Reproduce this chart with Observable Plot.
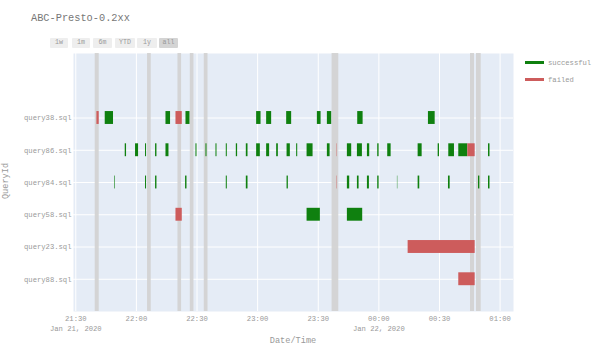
<!DOCTYPE html>
<html>
<head>
<meta charset="utf-8">
<script src="https://cdn.jsdelivr.net/npm/d3@7"></script>
<script src="https://cdn.jsdelivr.net/npm/@observablehq/plot@0.6"></script>
<style>
  body { margin: 0; background: #fff; }
  #wrap { position: relative; width: 600px; height: 353px; font-family: "Liberation Mono", "DejaVu Sans Mono", monospace; overflow: hidden; }
  #chart { position: absolute; left: 0; top: 0; }
  .title { position: absolute; left: 31px; top: 12px; font-size: 10.3px; color: #777; white-space: nowrap; }
  .btn { position: absolute; top: 38px; height: 10px; line-height: 10px; font-size: 6.6px; color: #999; background: #eeeeee; text-align: center; border-radius: 1px; }
  .btn.active { background: #d4d4d4; }
  .leg { position: absolute; left: 525px; width: 19px; height: 3px; }
  .legt { position: absolute; left: 548px; font-size: 7.2px; color: #999; line-height: 8px; white-space: nowrap; }
  .ytitle { position: absolute; left: 6px; top: 181px; font-size: 8.6px; color: #999; transform: translate(-50%, -50%) rotate(-90deg); white-space: nowrap; }
  .xtitle { position: absolute; left: 293px; top: 341px; font-size: 8.6px; color: #999; transform: translate(-50%, -50%); white-space: nowrap; }
</style>
</head>
<body>
<div id="wrap">
  <div id="chart"></div>
</div>
<script>
// ---------- data ----------
const chartTitle = "ABC-Presto-0.2xx";
const rangeButtons = ["1w", "1m", "6m", "YTD", "1y", "all"];
const statuses = ["successful", "failed"];
const statusColors = ["#0f800f", "#cd5c5c"];
// bottom to top
const queries = ["query88.sql", "query23.sql", "query58.sql", "query84.sql", "query86.sql", "query38.sql"];
const xTicks = ["21:30", "22:00", "22:30", "23:00", "23:30", "00:00", "00:30", "01:00"];
const xDomain = ["21:28:52", "01:06:38"];
const xLabel = "Date/Time";
const yLabel = "QueryId";

// [start, finish, status]
const query38 = [
  ["21:40:27", "21:41:35", "failed"],
  ["21:44:34", "21:48:40", "successful"],
  ["22:14:38", "22:16:54", "successful"],
  ["22:19:35", "22:22:42", "failed"],
  ["22:24:32", "22:26:31", "successful"],
  ["22:59:30", "23:01:41", "successful"],
  ["23:04:27", "23:06:56", "successful"],
  ["23:14:22", "23:16:50", "successful"],
  ["23:29:34", "23:31:24", "successful"],
  ["23:34:31", "23:36:39", "successful"],
  ["23:49:32", "23:52:12", "successful"],
  ["00:24:32", "00:27:52", "successful"]
];
const query86 = [
  ["21:54:28", "21:55:07", "successful"],
  ["21:59:34", "22:01:04", "successful"],
  ["22:04:31", "22:05:01", "successful"],
  ["22:09:29", "22:10:10", "successful"],
  ["22:14:38", "22:16:07", "successful"],
  ["22:29:29", "22:29:59", "successful"],
  ["22:34:26", "22:34:56", "successful"],
  ["22:39:23", "22:39:53", "successful"],
  ["22:44:29", "22:44:59", "successful"],
  ["22:49:27", "22:50:05", "successful"],
  ["22:54:24", "22:55:14", "successful"],
  ["22:59:30", "23:01:20", "successful"],
  ["23:04:27", "23:05:56", "successful"],
  ["23:09:25", "23:10:15", "successful"],
  ["23:14:34", "23:16:11", "successful"],
  ["23:19:19", "23:19:50", "successful"],
  ["23:24:28", "23:27:26", "successful"],
  ["23:34:31", "23:35:52", "successful"],
  ["23:39:19", "23:39:30", "failed"],
  ["23:44:25", "23:46:33", "successful"],
  ["23:49:23", "23:51:51", "successful"],
  ["23:54:20", "23:55:28", "successful"],
  ["23:59:26", "00:00:07", "successful"],
  ["00:04:23", "00:06:04", "successful"],
  ["00:19:26", "00:21:25", "successful"],
  ["00:29:21", "00:30:00", "successful"],
  ["00:34:36", "00:37:25", "successful"],
  ["00:39:33", "00:44:01", "successful"],
  ["00:44:01", "00:47:40", "failed"],
  ["00:54:16", "00:55:00", "successful"]
];
const query84 = [
  ["21:49:10", "21:49:28", "successful"],
  ["22:04:31", "22:05:01", "successful"],
  ["22:09:29", "22:10:10", "successful"],
  ["22:24:20", "22:25:02", "successful"],
  ["22:44:29", "22:44:59", "successful"],
  ["22:54:24", "22:55:14", "successful"],
  ["23:14:34", "23:15:12", "successful"],
  ["23:39:19", "23:39:30", "failed"],
  ["23:44:25", "23:45:34", "successful"],
  ["23:49:23", "23:50:13", "successful"],
  ["23:54:20", "23:55:19", "successful"],
  ["23:59:26", "00:00:07", "successful"],
  ["00:09:11", "00:09:22", "successful"],
  ["00:19:26", "00:20:14", "successful"],
  ["00:34:27", "00:35:17", "successful"],
  ["00:49:19", "00:49:58", "successful"],
  ["00:54:16", "00:55:00", "successful"]
];
const query58 = [
  ["22:19:35", "22:22:42", "failed"],
  ["23:24:28", "23:31:03", "successful"],
  ["23:44:25", "23:52:00", "successful"]
];
const query23 = [
  ["00:14:29", "00:47:40", "failed"]
];
const query88 = [
  ["00:39:33", "00:47:40", "failed"]
];

// grey marker bands
const bandStart = ["21:39:37", "22:05:31", "22:20:34", "22:26:40", "22:33:36", "23:36:50", "00:45:21", "00:48:19"];
const bandEnd   = ["21:41:35", "22:07:21", "22:22:21", "22:28:29", "22:35:26", "23:40:10", "00:47:20", "00:50:39"];

// ---------- helpers ----------
function parseT(s) {
  const [h, m, sec] = s.split(":").map(Number);
  const day = h < 12 ? 22 : 21;
  return new Date(Date.UTC(2020, 0, day, h, m, sec || 0));
}
const byQuery = {
  "query88.sql": query88, "query23.sql": query23, "query58.sql": query58,
  "query84.sql": query84, "query86.sql": query86, "query38.sql": query38
};
const runs = [];
queries.forEach((q, i) => {
  byQuery[q].forEach(([s, e, st]) => runs.push({query: q, yi: i, start: parseT(s), end: parseT(e), status: st}));
});
const bands = bandStart.map((s, i) => ({start: parseT(s), end: parseT(bandEnd[i])}));
const tickDates = xTicks.map(parseT);
const fmtTime = d3.utcFormat("%H:%M");
const fmtDay = d3.utcFormat("%b %d, %Y");
const tickText = (d, i) => (i === 0 || (d.getUTCHours() === 0 && d.getUTCMinutes() === 0)) ? fmtTime(d) + "\n" + fmtDay(d) : fmtTime(d);

// ---------- chart ----------
const chart = Plot.plot({
  width: 600,
  height: 353,
  marginLeft: 73,
  marginRight: 87,
  marginTop: 53,
  marginBottom: 42,
  style: {fontFamily: "'Liberation Mono', 'DejaVu Sans Mono', monospace", fontSize: "7.2px", color: "#999", background: "transparent", overflow: "visible"},
  x: {type: "utc", domain: xDomain.map(parseT), axis: null},
  y: {domain: [-1, 7], ticks: [0, 1, 2, 3, 4, 5], tickFormat: i => queries[i], tickSize: 0, tickPadding: 2, label: null},
  color: {domain: statuses, range: statusColors},
  marks: [
    Plot.frame({fill: "#e5ecf6", stroke: "none"}),
    Plot.ruleX(tickDates, {stroke: "white", strokeWidth: 1}),
    Plot.ruleY([0, 1, 2, 3, 4, 5], {stroke: "white", strokeWidth: 1}),
    Plot.rect(bands, {x1: "start", x2: "end", fill: "#d3d3d3", fillOpacity: 0.95}),
    Plot.rect(runs, {x1: "start", x2: "end", y1: d => d.yi - 0.2, y2: d => d.yi + 0.2, fill: "status"}),
    Plot.text(tickDates, {x: d => d, text: tickText, frameAnchor: "bottom", lineAnchor: "top", dy: 3, lineHeight: 1.33, fill: "#999"})
  ]
});
document.getElementById("chart").appendChild(chart);

// ---------- overlay text ----------
const wrap = document.getElementById("wrap");
function add(cls, text, css) {
  const el = document.createElement("div");
  el.className = cls;
  if (text != null) el.textContent = text;
  Object.assign(el.style, css || {});
  wrap.appendChild(el);
  return el;
}
add("title", chartTitle);
const btnLeft = [50, 72, 93, 115, 137, 159];
const btnWidth = [18, 18, 19, 20, 20, 19];
rangeButtons.forEach((b, i) => {
  add("btn" + (b === "all" ? " active" : ""), b, {left: btnLeft[i] + "px", width: btnWidth[i] + "px"});
});
statuses.forEach((s, i) => {
  add("leg", null, {top: (60.5 + i * 17.5) + "px", background: statusColors[i]});
  add("legt", s, {top: (58.5 + i * 17.5) + "px"});
});
add("ytitle", yLabel);
add("xtitle", xLabel);
</script>
</body>
</html>
